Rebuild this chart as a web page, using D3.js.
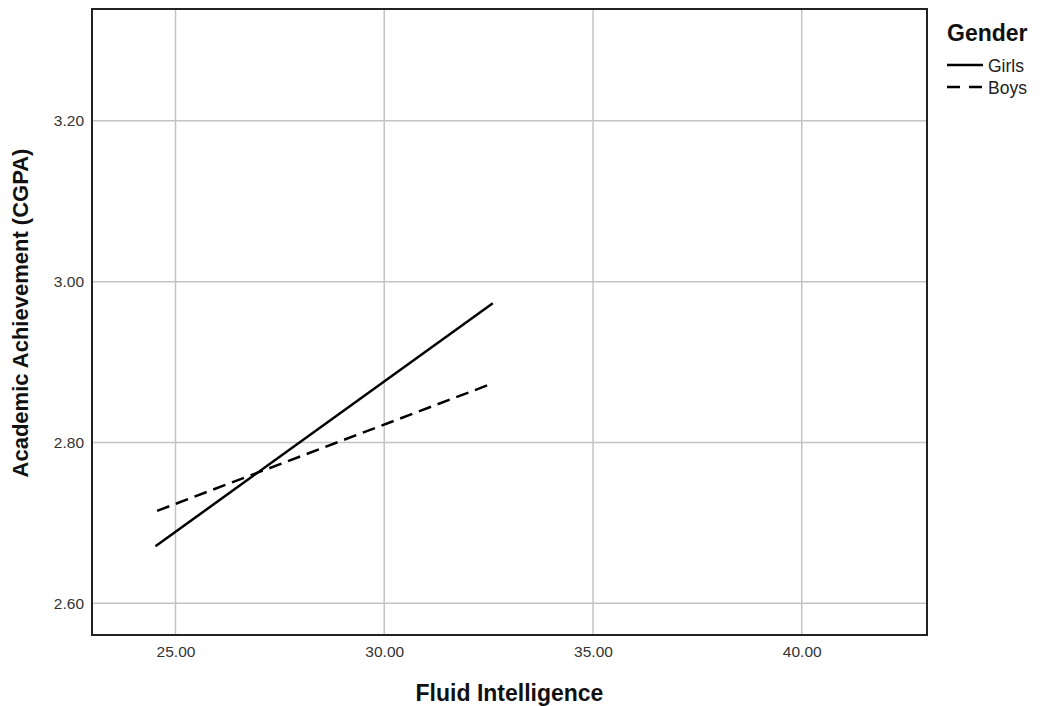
<!DOCTYPE html>
<html>
<head>
<meta charset="utf-8">
<script src="https://cdn.jsdelivr.net/npm/d3@7"></script>
<style>
  body { margin: 0; background: #fff; }
  text { font-family: "Liberation Sans", Arial, sans-serif; }
</style>
</head>
<body>
<div id="chart"></div>
<script>
const xTicks = [25, 30, 35, 40];
const yTicks = [2.6, 2.8, 3.0, 3.2];
const series = ['Girls', 'Boys'];
const girlsX = [24.52, 32.6];
const girlsY = [2.671, 2.973];
const boysX = [24.56, 32.57];
const boysY = [2.715, 2.873];

const width = 1040, height = 706;
const margin = { top: 9, right: 113, bottom: 71, left: 92 };

const svg = d3.select('#chart').append('svg')
  .attr('width', width)
  .attr('height', height);

const x = d3.scaleLinear().domain([23, 43]).range([margin.left, width - margin.right]);
const y = d3.scaleLinear().domain([2.5606, 3.339]).range([height - margin.bottom, margin.top]);

// grid
svg.append('g').selectAll('line')
  .data(xTicks)
  .enter().append('line')
  .attr('x1', d => x(d)).attr('x2', d => x(d))
  .attr('y1', margin.top).attr('y2', height - margin.bottom)
  .attr('stroke', '#c4c4c4').attr('stroke-width', 1.5);

svg.append('g').selectAll('line')
  .data(yTicks)
  .enter().append('line')
  .attr('x1', margin.left).attr('x2', width - margin.right)
  .attr('y1', d => y(d)).attr('y2', d => y(d))
  .attr('stroke', '#c4c4c4').attr('stroke-width', 1.5);

// frame
svg.append('rect')
  .attr('x', margin.left).attr('y', margin.top)
  .attr('width', width - margin.left - margin.right)
  .attr('height', height - margin.top - margin.bottom)
  .attr('fill', 'none').attr('stroke', '#222').attr('stroke-width', 2);

// axes
const xAxis = svg.append('g')
  .attr('transform', `translate(0,${height - margin.bottom})`)
  .call(d3.axisBottom(x).tickValues(xTicks).tickFormat(d3.format('.2f')).tickSize(0).tickPadding(11));
xAxis.select('.domain').remove();
xAxis.selectAll('text').attr('font-size', 15.5).attr('fill', '#333')
  .style('font-family', '"Liberation Sans", Arial, sans-serif');

const yAxis = svg.append('g')
  .attr('transform', `translate(${margin.left},0)`)
  .call(d3.axisLeft(y).tickValues(yTicks).tickFormat(d3.format('.2f')).tickSize(0).tickPadding(8));
yAxis.select('.domain').remove();
yAxis.selectAll('text').attr('font-size', 15.5).attr('fill', '#333')
  .style('font-family', '"Liberation Sans", Arial, sans-serif');

// lines
const line = d3.line().x(d => x(d[0])).y(d => y(d[1]));
const data = [
  { name: 'Girls', pts: girlsX.map((v, i) => [v, girlsY[i]]), dash: null },
  { name: 'Boys', pts: boysX.map((v, i) => [v, boysY[i]]), dash: '13,7' }
];

svg.selectAll('path.series')
  .data(data)
  .enter().append('path')
  .attr('class', 'series')
  .attr('d', d => line(d.pts))
  .attr('fill', 'none')
  .attr('stroke', '#000')
  .attr('stroke-width', 2.5)
  .attr('stroke-dasharray', d => d.dash);

// axis titles
svg.append('text')
  .attr('x', (margin.left + width - margin.right) / 2)
  .attr('y', 701)
  .attr('text-anchor', 'middle')
  .attr('font-size', 23).attr('font-weight', 'bold').attr('fill', '#111')
  .text('Fluid Intelligence');

svg.append('text')
  .attr('transform', 'translate(28,313) rotate(-90)')
  .attr('text-anchor', 'middle')
  .attr('font-size', 22).attr('font-weight', 'bold').attr('fill', '#111')
  .text('Academic Achievement (CGPA)');

// legend
svg.append('text')
  .attr('x', 947).attr('y', 41)
  .attr('font-size', 23).attr('font-weight', 'bold').attr('fill', '#111')
  .text('Gender');

const legend = svg.selectAll('g.legend')
  .data(data)
  .enter().append('g')
  .attr('class', 'legend')
  .attr('transform', (d, i) => `translate(947,${65 + i * 22})`);

legend.append('line')
  .attr('x1', 0).attr('x2', 36)
  .attr('stroke', '#000').attr('stroke-width', 2.5)
  .attr('stroke-dasharray', d => d.dash ? '13,9' : null);

legend.append('text')
  .attr('x', 41).attr('y', 7)
  .attr('font-size', 17.5).attr('fill', '#222')
  .text(d => d.name);
</script>
</body>
</html>
